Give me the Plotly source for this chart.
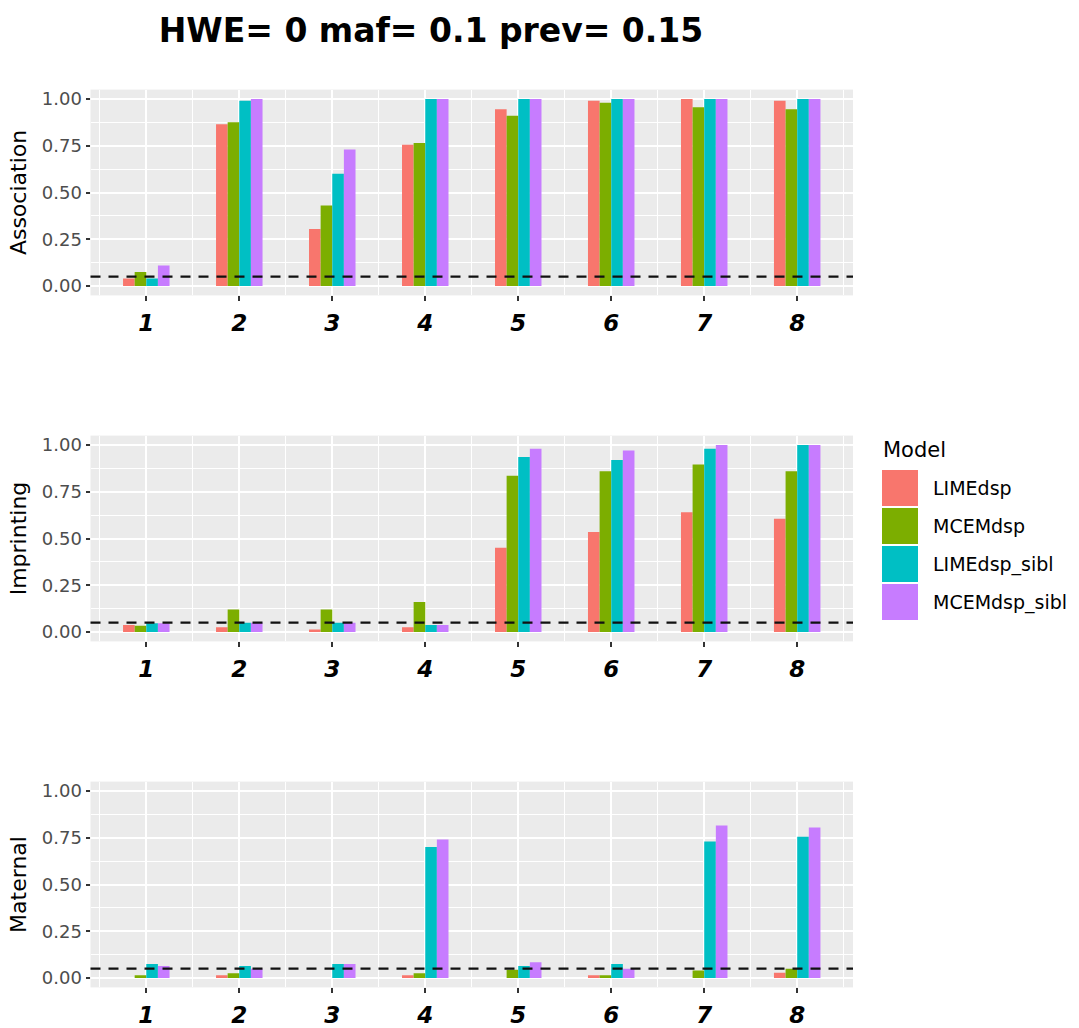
import plotly.graph_objects as go

# ---- data -------------------------------------------------------------
categories = [1, 2, 3, 4, 5, 6, 7, 8]
models = ["LIMEdsp", "MCEMdsp", "LIMEdsp_sibl", "MCEMdsp_sibl"]
panels = ["Association", "Imprinting", "Maternal"]

assoc_lime = [0.04, 0.865, 0.305, 0.755, 0.945, 0.99, 1.0, 0.99]
assoc_mcem = [0.075, 0.875, 0.43, 0.765, 0.91, 0.98, 0.955, 0.945]
assoc_lime_sibl = [0.04, 0.99, 0.60, 1.0, 1.0, 1.0, 1.0, 1.0]
assoc_mcem_sibl = [0.11, 1.0, 0.73, 1.0, 1.0, 1.0, 1.0, 1.0]

imp_lime = [0.037, 0.025, 0.014, 0.025, 0.45, 0.535, 0.64, 0.605]
imp_mcem = [0.034, 0.12, 0.12, 0.16, 0.835, 0.86, 0.895, 0.86]
imp_lime_sibl = [0.047, 0.05, 0.05, 0.037, 0.935, 0.92, 0.98, 1.0]
imp_mcem_sibl = [0.047, 0.05, 0.05, 0.037, 0.98, 0.97, 1.0, 1.0]

mat_lime = [0.0, 0.015, 0.0, 0.015, 0.0, 0.015, 0.0, 0.028]
mat_mcem = [0.015, 0.025, 0.0, 0.025, 0.045, 0.015, 0.04, 0.05]
mat_lime_sibl = [0.075, 0.065, 0.075, 0.70, 0.065, 0.075, 0.73, 0.755]
mat_mcem_sibl = [0.065, 0.05, 0.075, 0.74, 0.085, 0.05, 0.815, 0.805]

threshold = 0.05
y_ticks = [0.0, 0.25, 0.5, 0.75, 1.0]
y_tick_text = ["0.00", "0.25", "0.50", "0.75", "1.00"]

title_text = "HWE= 0 maf= 0.1 prev= 0.15"

# ---- styling ----------------------------------------------------------
colors = ["#F8766D", "#7CAE00", "#00BFC4", "#C77CFF"]
FONT = "DejaVu Sans"
W, H = 1079, 1028

panel_series = [
    [assoc_lime, assoc_mcem, assoc_lime_sibl, assoc_mcem_sibl],
    [imp_lime, imp_mcem, imp_lime_sibl, imp_mcem_sibl],
    [mat_lime, mat_mcem, mat_lime_sibl, mat_mcem_sibl],
]

# panel frames in pixels (top, bottom) and shared left/right
x_left, x_right = 90.5, 853.0
panel_px = [(89.6, 295.4), (435.6, 641.4), (781.6, 987.4)]

fig = go.Figure()

for p, series in enumerate(panel_series):
    suffix = "" if p == 0 else str(p + 1)
    for m, vals in enumerate(series):
        fig.add_trace(go.Bar(
            x=categories, y=vals, name=models[m],
            marker=dict(color=colors[m], line=dict(width=0)),
            xaxis="x" + suffix, yaxis="y" + suffix,
            offsetgroup=str(m), legendgroup=models[m],
            showlegend=False,
        ))

    top, bot = panel_px[p]
    ydom = [1 - bot / H, 1 - top / H]
    xdom = [x_left / W, x_right / W]

    fig.update_layout(**{
        "xaxis" + suffix: dict(
            domain=xdom, anchor="y" + suffix, range=[0.4, 8.6],
            tickmode="array", tickvals=categories,
            ticktext=[f"<b><i>{c}</i></b>" for c in categories],
            tickfont=dict(family=FONT, size=23, color="black"),
            ticks="outside", ticklen=5, tickwidth=1.5, tickcolor="#333333",
            ticklabelstandoff=2,
            showgrid=True, gridcolor="white", gridwidth=2,
            minor=dict(dtick=0.5, tick0=0.5, showgrid=True,
                       gridcolor="white", gridwidth=1, ticks=""),
            zeroline=False, showline=False, automargin=False,
        ),
        "yaxis" + suffix: dict(
            domain=ydom, anchor="x" + suffix, range=[-0.05, 1.05],
            tickmode="array", tickvals=y_ticks, ticktext=y_tick_text,
            tickfont=dict(family=FONT, size=18, color="#4D4D4D"),
            ticks="outside", ticklen=4, tickwidth=1.5, tickcolor="#333333",
            showgrid=True, gridcolor="white", gridwidth=2,
            minor=dict(dtick=0.125, tick0=0, showgrid=True,
                       gridcolor="white", gridwidth=1, ticks=""),
            zeroline=False, showline=False, automargin=False,
            title=dict(text=panels[p], standoff=9,
                       font=dict(family=FONT, size=22, color="black")),
        ),
    })

    # dashed reference line at the significance threshold
    fig.add_shape(type="line", xref=f"x{suffix} domain", yref="y" + suffix,
                  x0=0, x1=1, y0=threshold, y1=threshold,
                  line=dict(color="#111111", width=2.2, dash="10px,8px"))

# ---- legend drawn as keys + labels ------------------------------------
fig.add_annotation(text="Model", xref="paper", yref="paper",
                   x=881 / W, y=1 - 450 / H, xanchor="left", yanchor="middle",
                   showarrow=False,
                   font=dict(family=FONT, size=21, color="black"))
key_top = 469.0
key_h = 38.0
for m, name in enumerate(models):
    t = key_top + m * key_h
    fig.add_shape(type="rect", xref="paper", yref="paper",
                  x0=882 / W, x1=918 / W,
                  y0=1 - (t + key_h - 1) / H, y1=1 - (t + 1) / H,
                  fillcolor=colors[m], line=dict(width=0))
    fig.add_annotation(text=name, xref="paper", yref="paper",
                       x=931 / W, y=1 - (t + key_h / 2) / H,
                       xanchor="left", yanchor="middle", showarrow=False,
                       font=dict(family=FONT, size=19, color="black"))

fig.update_layout(
    width=W, height=H,
    margin=dict(l=0, r=0, t=0, b=0),
    paper_bgcolor="white", plot_bgcolor="#EBEBEB",
    barmode="group", bargap=0.5, bargroupgap=0,
    showlegend=False,
    title=dict(text=f"<b>{title_text}</b>", x=431 / W, xanchor="center",
               y=1 - 30 / H, yanchor="middle",
               font=dict(family=FONT, size=33, color="black")),
)

fig.write_html("out.html")
